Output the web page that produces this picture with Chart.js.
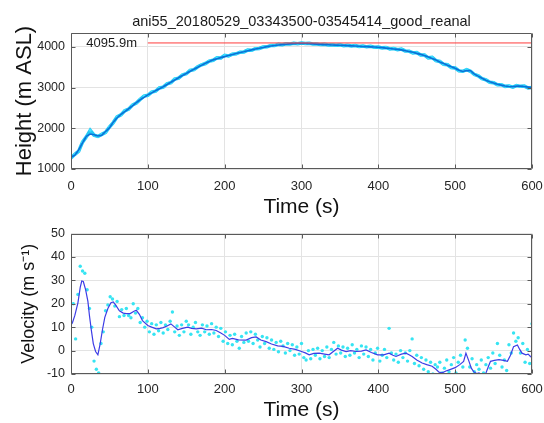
<!DOCTYPE html>
<html><head><meta charset="utf-8">
<script src="https://cdn.jsdelivr.net/npm/chart.js@4/dist/chart.umd.min.js"></script>
<style>
html,body{margin:0;padding:0;background:#fff;}
#w{position:relative;width:544px;height:423px;overflow:hidden;background:#fff;}
#c1{position:absolute;left:0;top:0;}
#c2{position:absolute;left:0;top:220px;}
</style></head><body>
<div id="w"><canvas id="c1" width="544" height="220"></canvas><canvas id="c2" width="544" height="203"></canvas></div>
<script>
const titleText = 'ani55_20180529_03343500-03545414_good_reanal';
const xTicks = [0, 100, 200, 300, 400, 500, 600];
const hTicks = [1000, 2000, 3000, 4000];
const vTicks = [-10, 0, 10, 20, 30, 40, 50];
const maxHeight = 4095.9;
const maxLineT = [100, 600];
const maxLabel = '4095.9m';
const maxLabelT = 20;

// Height samples every 5 s (0..600)
const hStep = 5;
const heightRaw = [1270,1360,1440,1660,1790,1950,1830,1800,1850,1900,2030,2140,2280,2330,2430,2470,2570,2620,2710,2790,
2810,2890,2910,2990,3010,3090,3120,3210,3230,3310,3340,3420,3440,3510,3560,3590,3650,3670,3730,3725,
3790,3775,3820,3830,3870,3875,3920,3915,3955,3960,3995,4000,4030,4030,4060,4050,4075,4070,4090,4078,
4096,4080,4085,4068,4072,4055,4062,4045,4050,4038,4048,4030,4038,4020,4030,4008,4018,4000,4012,3990,
3998,3975,3985,3950,3960,3930,3945,3900,3895,3850,3860,3800,3800,3730,3740,3660,3640,3570,3560,3490,
3480,3410,3400,3440,3400,3320,3290,3220,3190,3130,3120,3070,3070,3030,3040,3010,3050,3030,3035,2990,3000];
const heightSmooth = [1290,1340,1470,1640,1800,1860,1840,1810,1830,1920,2010,2150,2260,2340,2410,2480,2550,2630,2700,2760,
2820,2870,2920,2970,3020,3075,3130,3185,3240,3295,3345,3400,3450,3500,3550,3595,3640,3680,3710,3735,
3760,3785,3810,3835,3860,3880,3905,3925,3945,3965,3985,4005,4020,4035,4045,4055,4065,4072,4078,4082,
4084,4082,4078,4072,4066,4060,4055,4050,4045,4042,4040,4035,4030,4025,4020,4014,4010,4005,4000,3996,
3990,3980,3968,3958,3948,3938,3925,3905,3885,3865,3840,3815,3785,3750,3715,3675,3630,3590,3550,3510,
3475,3425,3395,3420,3415,3330,3280,3230,3180,3140,3110,3080,3060,3040,3025,3020,3035,3040,3025,3010,2995];

// Velocity raw samples every 3 s (0..600)
const vStep = 3;
const velocityRaw = [12,20,5,24,36,34,33,26,18,10,-4.5,-8,-9.5,3,8,17,19.5,23,22,19,
21,14.5,17.5,15,18,15,14,20,16,18,12,14,10,12.5,8,11.5,7,11,8.5,12,
7.5,11,9,12.5,16.5,8,10.5,6.5,11,8,12.5,11,7,10,12,8,6.5,11,8,10.5,
7,11.5,7.5,10,6,9.5,4,8,3,6.5,2.5,7,4,1,6,3.5,7.5,4,8,3,
7,4.5,1.5,6,3,5.5,1,4.5,0.5,3.5,-0.5,4,2,-1,3,0,2.5,-2,1.5,-1.5,
3,-3,-4,0,-3.5,0.5,-2,1,-3.5,0,-2.5,1.5,-3,0.5,3.5,-1.5,2,-1,1.5,-2.5,
1,-2,2.5,-1,0.5,-3,2,-1.5,1.5,-2.5,0.5,-4,-1,1,-4.5,-2,0.5,-3,9.5,-1,
-4,-1.5,-5,0,-3,-1,-4.5,0,5,-5.5,-2,-6.5,-3,-8,-4,-9,-5,-10,-6,-7,
-5,-9.5,-7.5,-4,-9,-6,-3,-9.5,-5,-2,-7,4.5,1,-7,-3.5,-9,-6,-8,-4,-9.5,
-6,-3,-7.5,-1,-5.5,3,-2,-7,-4,-8.5,2.5,-1,7.5,4,5.5,-1,3,-5,0.5,-5.5,11.5];

// Smoothed velocity
const velSmoothT = [0,2,5,9,12,14,16,19,22,24,26.5,29,32,35,38,41,44,48,52,55,58,63,68,72,77,82,85,89,93,100,
105,111,116,120,125,130,135,139,145,152,157,163,170,176,183,189,195,200,206,210,218,228,235,241,247,254,261,269,276,284,
292,300,305,310,316,323,330,336,341,347,352,358,364,371,378,384,391,399,407,414,419,423,430,436,440,444,450,457,463,470,
475,479,483,488,494,500,506,511,514,518,521,524,528,531,535,539,543,546,551,557,563,568,572,576,581,584,587,592,595,598,600];
const velSmoothV = [11,12,15,20.4,27,29.7,29.5,26,21,15,8.6,3,-0.4,-1.8,3,9,14.2,18,20.4,20.8,19.5,17,16,15.8,15.8,16.8,17.2,15.5,12.8,10.7,
10,9.3,9.5,9.8,10.5,11.4,10,8.9,9.5,10,9.5,9.3,9.6,8.9,9,8.6,7.5,6.5,4.8,5.2,4.6,4.5,5.5,5.8,4.5,3.8,2.8,2,1.8,1,
0.5,-0.4,-1,-1.8,-1.2,-1.1,-1.5,-1.8,-0.5,1,0.2,-0.4,0,-0.4,-0.2,0.3,-0.8,-1.8,-1.8,-1.1,-2,-2.5,-1.5,-1.1,-1.8,-2.5,-4,-5.3,-6,-6.7,
-8,-9.2,-9.5,-8.7,-8,-7.3,-6,-4.6,-1.1,-4.6,-7.5,-9,-9.8,-9.5,-10.5,-10.5,-7,-4.6,-4.2,-3.9,-4.2,-4.6,-2,1.7,2.4,0.5,-1.1,-1.8,-1.5,-2.5,-3];

const FONT = 'Liberation Sans, Arial, sans-serif';
const TXT = '#262626';
const GRID = '#e3e3e3';

const pts = (ts, vs) => vs.map((v, i) => ({x: ts[i], y: v}));
const tH = heightRaw.map((_, i) => i * hStep);
const tV = velocityRaw.map((_, i) => i * vStep);

const boxPlugin = {
  id: 'box',
  afterDatasetsDraw(chart) {
    const {ctx, chartArea: a, scales} = chart;
    const L = Math.round(a.left) + 0.5, R = Math.round(a.right) - 0.5, T = Math.round(a.top) + 0.5, B = Math.round(a.bottom) - 0.5;
    ctx.save();
    ctx.strokeStyle = '#5a5a5a'; ctx.lineWidth = 1;
    ctx.beginPath();
    ctx.rect(L, T, R - L, B - T);
    const tl = 4;
    scales.x.ticks.forEach(t => {
      const p = Math.round(scales.x.getPixelForValue(t.value)) + 0.5;
      ctx.moveTo(p, B); ctx.lineTo(p, B - tl);
      ctx.moveTo(p, T); ctx.lineTo(p, T + tl);
    });
    scales.y.ticks.forEach(t => {
      const p = Math.round(scales.y.getPixelForValue(t.value)) + 0.5;
      ctx.moveTo(L, p); ctx.lineTo(L + tl, p);
      ctx.moveTo(R, p); ctx.lineTo(R - tl, p);
    });
    ctx.stroke();
    ctx.restore();
  }
};

const labelPlugin = {
  id: 'maxlabel',
  afterDatasetsDraw(chart) {
    if (chart.canvas.id !== 'c1') return;
    const {ctx, scales} = chart;
    ctx.save();
    ctx.font = '13px ' + FONT;
    ctx.fillStyle = '#1a1a1a';
    ctx.textBaseline = 'middle';
    ctx.textAlign = 'left';
    ctx.fillText(maxLabel, scales.x.getPixelForValue(maxLabelT), scales.y.getPixelForValue(maxHeight));
    ctx.restore();
  }
};

function xScale(h, pad) {
  return {
    type: 'linear', min: 0, max: 600,
    afterBuildTicks: s => { s.ticks = xTicks.map(v => ({value: v})); },
    afterFit: s => { s.height = h; s.paddingLeft = 0; s.paddingRight = 0; },
    grid: {color: GRID, drawTicks: false},
    border: {display: false},
    ticks: {color: TXT, font: {size: 13, family: FONT}, padding: pad, maxRotation: 0, callback: v => String(v)},
    title: {display: true, text: 'Time (s)', color: '#111', font: {size: 21, family: FONT}, padding: {top: 0, bottom: 0}}
  };
}
function yScale(min, max, ticks, title, tsize, tpad) {
  return {
    type: 'linear', min: min, max: max,
    afterBuildTicks: s => { s.ticks = ticks.map(v => ({value: v})); },
    afterFit: s => { s.width = 71; },
    grid: {color: GRID, drawTicks: false},
    border: {display: false},
    ticks: {color: TXT, font: {size: 12.5, family: FONT}, padding: 6, callback: v => String(v)},
    title: {display: true, text: title, color: '#111', font: {size: tsize, family: FONT}, padding: {top: tpad, bottom: 0}}
  };
}

new Chart(document.getElementById('c1'), {
  type: 'scatter',
  data: {datasets: [
    {data: pts(maxLineT, [maxHeight, maxHeight]), showLine: true, borderColor: '#ff3b3b', borderWidth: 1, pointRadius: 0, order: 0},
    {data: pts(tH, heightSmooth), showLine: true, borderColor: '#0b6fd8', borderWidth: 1.6, pointRadius: 0, order: 1},
    {data: pts(tH, heightRaw), showLine: true, borderColor: '#22c8f4', borderWidth: 3.5, pointRadius: 1.4, pointBackgroundColor: '#3fe2ff', pointBorderWidth: 0, order: 2}
  ]},
  options: {
    responsive: false, animation: false, devicePixelRatio: 1,
    layout: {padding: {left: 0, right: 12, top: 0, bottom: 0}},
    plugins: {
      legend: {display: false}, tooltip: {enabled: false},
      title: {display: true, fullSize: false, text: titleText, color: '#1a1a1a', font: {size: 14.5, family: FONT, weight: 'normal'}, padding: {top: 13, bottom: 2.6}}
    },
    scales: {x: xScale(51, 10), y: yScale(1000, 4340, hTicks, 'Height (m ASL)', 22, 12)}
  },
  plugins: [boxPlugin, labelPlugin]
});

new Chart(document.getElementById('c2'), {
  type: 'scatter',
  data: {datasets: [
    {data: pts(velSmoothT, velSmoothV), showLine: true, borderColor: '#3c3ce6', borderWidth: 1.2, pointRadius: 0, order: 0, clip: 0},
    {data: pts(tV, velocityRaw), showLine: false, pointRadius: 1.7, pointBackgroundColor: '#36e4f2', pointBorderWidth: 0, order: 1, clip: 0}
  ]},
  options: {
    responsive: false, animation: false, devicePixelRatio: 1,
    layout: {padding: {left: 0, right: 12, top: 11, bottom: 0}},
    plugins: {legend: {display: false}, tooltip: {enabled: false}},
    scales: {x: xScale(49, 8), y: yScale(-10, 50, vTicks, 'Velocity (m s\u207B\u00B9)', 18, 18)}
  },
  plugins: [boxPlugin]
});
</script></body></html>
